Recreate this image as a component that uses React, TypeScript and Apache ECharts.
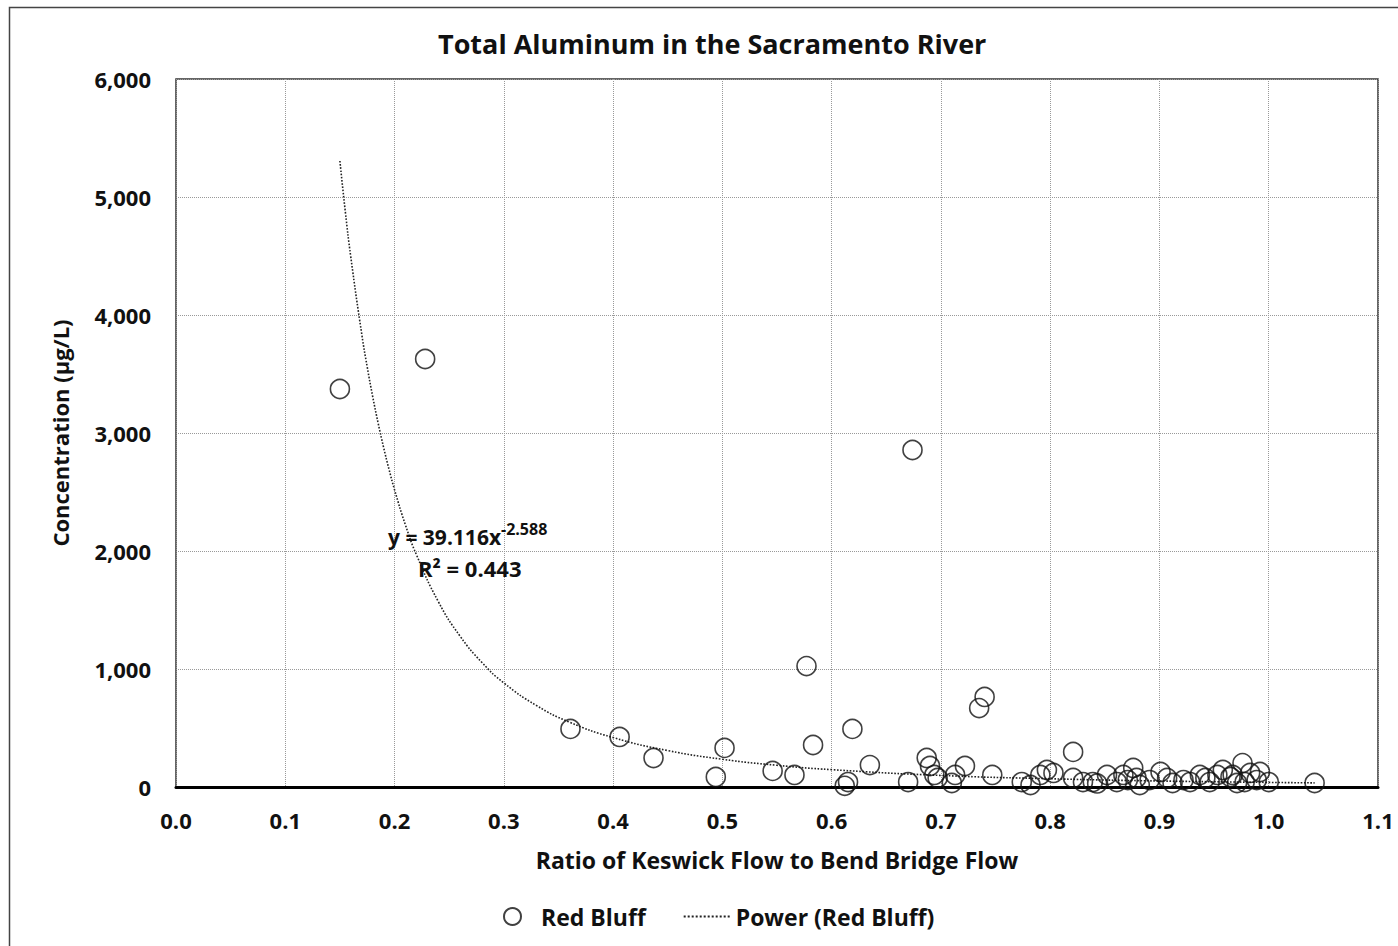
import React, { useEffect, useRef } from "react";
import * as echarts from "echarts";

// Red Bluff samples: ratio of Keswick flow to Bend Bridge flow (x) and total aluminum (µg/L, y)
const ratio = [
  0.150, 0.228, 0.674, 0.577, 0.740, 0.735, 0.361, 0.406, 0.437, 0.494,
  0.502, 0.546, 0.566, 0.583, 0.619, 0.615, 0.612, 0.635, 0.670, 0.687,
  0.690, 0.694, 0.697, 0.710, 0.713, 0.722, 0.747, 0.774, 0.782, 0.791,
  0.797, 0.803, 0.821, 0.821, 0.830, 0.839, 0.843, 0.852, 0.861, 0.867,
  0.871, 0.876, 0.879, 0.882, 0.891, 0.901, 0.907, 0.912, 0.922, 0.928,
  0.937, 0.942, 0.946, 0.953, 0.958, 0.965, 0.967, 0.971, 0.976, 0.978,
  0.983, 0.989, 0.992, 1.000, 1.042,
];
const concentration = [
  3373, 3627, 2856, 1025, 763, 669, 492, 424, 246, 85,
  331, 136, 102, 356, 492, 42, 10, 186, 42, 246,
  178, 102, 76, 34, 102, 178, 102, 42, 17, 102,
  144, 119, 297, 76, 42, 42, 30, 102, 42, 102,
  59, 161, 76, 17, 59, 127, 76, 34, 59, 42,
  102, 76, 42, 102, 144, 85, 102, 34, 203, 42,
  119, 59, 127, 42, 34,
];

// Power trendline y = 39.116x^-2.588
const trendX = [
  0.150, 0.155, 0.160, 0.170, 0.175, 0.180, 0.185, 0.190, 0.195, 0.200,
  0.210, 0.220, 0.240, 0.260, 0.280, 0.300, 0.330, 0.360, 0.400, 0.450,
  0.500, 0.550, 0.600, 0.700, 0.800, 0.900, 1.000, 1.042,
];
const trendY = [
  5305, 4872, 4489, 3837, 3559, 3309, 3083, 2877, 2690, 2519,
  2220, 1969, 1572, 1278, 1055, 882, 690, 550, 419, 309,
  235, 184, 147, 98, 70, 51, 39, 35,
];

const title = "Total Aluminum in the Sacramento River";
const xName = "Ratio of Keswick Flow to Bend Bridge Flow";
const yName = "Concentration (µg/L)";
const seriesName = "Red Bluff";
const trendName = "Power (Red Bluff)";
const equationMain = "y = 39.116x";
const equationExp = "-2.588";
const rSquared = "R² = 0.443";

const FONT = "'Open Sans', 'DejaVu Sans', sans-serif";

export default function App() {
  const ref = useRef<HTMLDivElement>(null);
  useEffect(() => {
    if (!ref.current) return;
    const chart = echarts.init(ref.current, null, { renderer: "svg" });
    const scatterData = ratio.map((r, i) => [r, concentration[i]]);
    const trendData = trendX.map((x, i) => [x, trendY[i]]);
    chart.setOption({
      animation: false,
      backgroundColor: "#ffffff",
      title: {
        text: title,
        left: 433,
        top: 25,
        textStyle: { fontFamily: FONT, fontWeight: "bold", fontSize: 27, color: "#111" },
      },
      grid: {
        left: 176,
        top: 79,
        right: 20,
        bottom: 159,
        show: true,
        borderColor: "#333",
        borderWidth: 1.5,
        containLabel: false,
      },
      legend: {
        left: 498,
        top: 900,
        itemWidth: 47,
        itemHeight: 17,
        itemGap: 37,
        data: [
          { name: seriesName },
          { name: trendName, itemStyle: { color: "rgba(0,0,0,0)", borderWidth: 0, opacity: 0 } },
        ],
        textStyle: { fontFamily: FONT, fontWeight: "bold", fontSize: 23, color: "#111" },
      },
      xAxis: {
        type: "value",
        min: 0,
        max: 1.1,
        interval: 0.1,
        name: xName,
        nameLocation: "middle",
        nameGap: 61,
        nameTextStyle: { fontFamily: FONT, fontWeight: "bold", fontSize: 23, color: "#111" },
        axisLine: { show: true, onZero: false, lineStyle: { color: "#000", width: 3 } },
        axisTick: { show: false },
        axisLabel: {
          margin: 22,
          fontFamily: FONT,
          fontWeight: "bold",
          fontSize: 22,
          color: "#111",
          formatter: (v: number) => v.toFixed(1),
        },
        splitLine: { show: true, lineStyle: { type: "dotted", color: "#999", width: 1 } },
      },
      yAxis: {
        type: "value",
        min: 0,
        max: 6000,
        interval: 1000,
        name: yName,
        nameLocation: "middle",
        nameGap: 105,
        nameTextStyle: { fontFamily: FONT, fontWeight: "bold", fontSize: 22, color: "#111" },
        axisLine: { show: false },
        axisTick: { show: false },
        axisLabel: {
          margin: 25,
          fontFamily: FONT,
          fontWeight: "bold",
          fontSize: 22,
          color: "#111",
          formatter: (v: number) => v.toLocaleString("en-US"),
        },
        splitLine: { show: true, lineStyle: { type: "dotted", color: "#999", width: 1 } },
      },
      series: [
        {
          name: trendName,
          type: "line",
          data: trendData,
          smooth: true,
          symbol: "none",
          lineStyle: { type: "dotted", color: "#222", width: 1.6 },
          itemStyle: { color: "#222" },
          z: 2,
        },
        {
          name: seriesName,
          type: "scatter",
          data: scatterData,
          symbol: "circle",
          symbolSize: 19,
          itemStyle: { color: "rgba(0,0,0,0)", borderColor: "#111", borderWidth: 1.6 },
          z: 3,
        },
      ],
      graphic: [
        {
          type: "rect",
          shape: { x: 9.5, y: 7.5, width: 1420, height: 960 },
          style: { fill: "none", stroke: "#444", lineWidth: 1.5 },
          silent: true,
          z: 0,
        },
        {
          type: "text",
          x: 388,
          y: 537,
          style: {
            text: equationMain,
            fontFamily: FONT,
            fontWeight: "bold",
            fontSize: 21,
            fill: "#111",
            verticalAlign: "middle",
            align: "left",
          },
          z: 10,
        },
        {
          type: "text",
          x: 501,
          y: 529,
          style: {
            text: equationExp,
            fontFamily: FONT,
            fontWeight: "bold",
            fontSize: 16,
            fill: "#111",
            verticalAlign: "middle",
            align: "left",
          },
          z: 10,
        },
        {
          type: "text",
          x: 418,
          y: 568,
          style: {
            text: rSquared,
            fontFamily: FONT,
            fontWeight: "bold",
            fontSize: 22,
            fill: "#111",
            verticalAlign: "middle",
            align: "left",
          },
          z: 10,
        },
      ],
    });
    return () => chart.dispose();
  }, []);
  return (
    <div
      ref={ref}
      style={{ position: "fixed", left: 0, top: 0, width: 1398, height: 946, background: "#fff" }}
    />
  );
}
